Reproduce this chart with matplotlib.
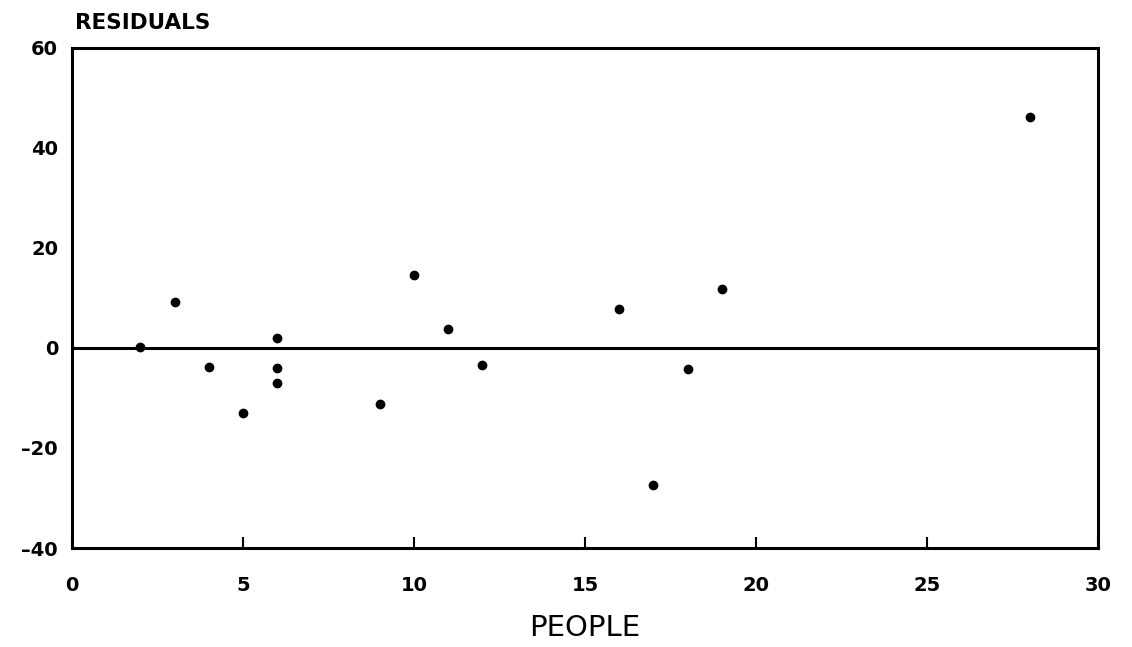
import matplotlib
matplotlib.use("Agg")
import matplotlib.pyplot as plt

people = [2, 3, 4, 5, 6, 6, 6, 9, 10, 11, 12, 16, 17, 18, 19, 28]
residuals = [0.2, 9.1, -3.9, -13.0, 2.0, -4.1, -7.1, -11.3, 14.6, 3.7, -3.5, 7.7, -27.5, -4.3, 11.8, 46.1]
xticks = [0, 5, 10, 15, 20, 25, 30]
yticks = [-40, -20, 0, 20, 40, 60]

fig = plt.figure(figsize=(11.32, 6.47), dpi=100)
ax = fig.add_axes([72/1132, 1-548/647, (1098-72)/1132, (548-47.7)/647])

ax.plot(people, residuals, 'o', color='black', markersize=6, zorder=3)
ax.axhline(0, color='black', lw=2.2, zorder=2)

ax.set_xlim(0, 30)
ax.set_ylim(-40, 60)
ax.set_xticks(xticks)
ax.set_yticks(yticks)
ax.set_xticklabels([str(t) for t in xticks], fontsize=14, fontweight='bold')
ax.set_yticklabels([str(t).replace('-', '\u2013') for t in yticks], fontsize=14, fontweight='bold')
ax.tick_params(axis='x', direction='in', length=8, width=1.5, pad=20)
ax.tick_params(axis='y', length=0, pad=10)
for s in ax.spines.values():
    s.set_linewidth(2.2)

ax.set_xlabel('PEOPLE', fontsize=21, labelpad=14)
fig.text(75/1132, 1-23/647, 'RESIDUALS', fontsize=15.5, fontweight='bold', ha='left', va='center')

fig.savefig('out.png', dpi=100)
